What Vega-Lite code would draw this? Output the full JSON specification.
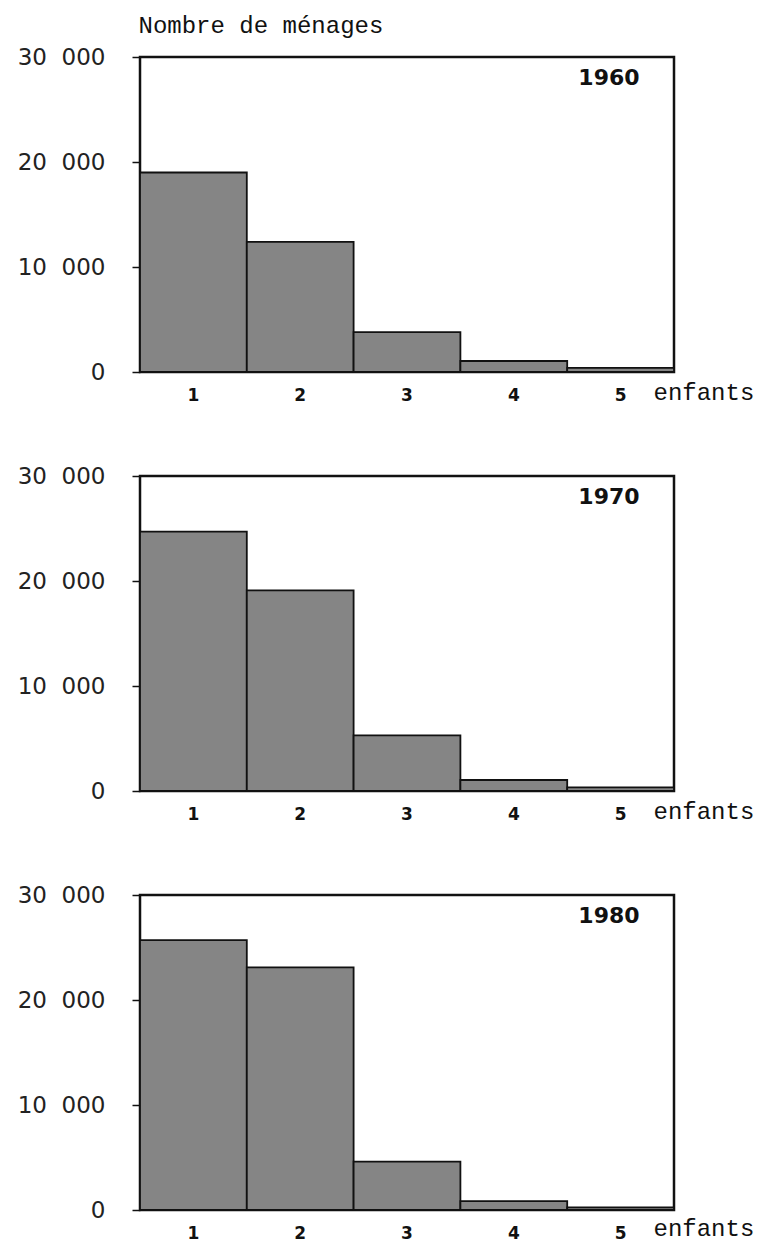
{
  "$schema": "https://vega.github.io/schema/vega-lite/v6.json",
  "background": "white",
  "padding": {"left": 15, "top": 11, "right": 0, "bottom": 0},
  "spacing": 104,
  "bounds": "flush",
  "config": {
    "view": {"stroke": "#111", "strokeWidth": 2.5},
    "axis": {"grid": false}
  },
  "datasets": {
    "menages": [
      {"annee": "1960", "enfants": 1, "menages": 19000},
      {"annee": "1960", "enfants": 2, "menages": 12400},
      {"annee": "1960", "enfants": 3, "menages": 3800},
      {"annee": "1960", "enfants": 4, "menages": 1050},
      {"annee": "1960", "enfants": 5, "menages": 400},
      {"annee": "1970", "enfants": 1, "menages": 24700},
      {"annee": "1970", "enfants": 2, "menages": 19100},
      {"annee": "1970", "enfants": 3, "menages": 5300},
      {"annee": "1970", "enfants": 4, "menages": 1050},
      {"annee": "1970", "enfants": 5, "menages": 350},
      {"annee": "1980", "enfants": 1, "menages": 25700},
      {"annee": "1980", "enfants": 2, "menages": 23100},
      {"annee": "1980", "enfants": 3, "menages": 4600},
      {"annee": "1980", "enfants": 4, "menages": 850},
      {"annee": "1980", "enfants": 5, "menages": 250}
    ],
    "annees": [
      {"annee": "1960"},
      {"annee": "1970"},
      {"annee": "1980"}
    ]
  },
  "vconcat": [
    {
      "width": 534,
      "height": 315,
      "layer": [
        {
          "data": {"name": "menages"},
          "transform": [{"filter": "datum.annee == '1960'"}],
          "mark": {"type": "bar", "fill": "#858585", "stroke": "#111", "strokeWidth": 1.8},
          "encoding": {
            "x": {"field": "enfants", "type": "ordinal", "scale": {"paddingInner": 0, "paddingOuter": 0},
              "axis": {"labelAngle": 0, "ticks": false, "domain": false, "labelPadding": 15, "labelFont": "DejaVu Sans", "labelFontWeight": "bold", "labelFontSize": 17, "labelColor": "#111",
                "title": "enfants", "titleX": 513, "titleY": 20, "titleAlign": "left", "titleBaseline": "middle", "titleFont": "Liberation Mono", "titleFontSize": 24, "titleFontWeight": "normal", "titleColor": "#111"}},
            "y": {"field": "menages", "type": "quantitative", "scale": {"domain": [0, 30000], "nice": false},
              "axis": {"values": [0, 10000, 20000, 30000], "domain": false, "tickSize": 8, "tickColor": "#111", "tickWidth": 1.5, "labelPadding": 27, "labelFont": "DejaVu Sans", "labelFontSize": 23, "labelColor": "#222",
                "labelExpr": "datum.value == 0 ? '0' : replace(format(datum.value, ','), ',', '\u00a0\u00a0')",
                "title": "Nombre de ménages", "titleAngle": 0, "titleX": -2, "titleY": -25, "titleAlign": "left", "titleBaseline": "alphabetic", "titleFont": "Liberation Mono", "titleFontSize": 24, "titleFontWeight": "normal", "titleColor": "#111"}}
          }
        },
        {
          "data": {"name": "annees"},
          "transform": [{"filter": "datum.annee == '1960'"}],
          "mark": {"type": "text", "align": "right", "baseline": "middle", "dx": 19, "font": "DejaVu Sans", "fontWeight": "bold", "fontSize": 22, "color": "#111"},
          "encoding": {
            "x": {"datum": 5, "type": "ordinal"},
            "y": {"datum": 28000, "type": "quantitative"},
            "text": {"field": "annee"}
          }
        }
      ]
    },
    {
      "width": 534,
      "height": 315,
      "layer": [
        {
          "data": {"name": "menages"},
          "transform": [{"filter": "datum.annee == '1970'"}],
          "mark": {"type": "bar", "fill": "#858585", "stroke": "#111", "strokeWidth": 1.8},
          "encoding": {
            "x": {"field": "enfants", "type": "ordinal", "scale": {"paddingInner": 0, "paddingOuter": 0},
              "axis": {"labelAngle": 0, "ticks": false, "domain": false, "labelPadding": 15, "labelFont": "DejaVu Sans", "labelFontWeight": "bold", "labelFontSize": 17, "labelColor": "#111",
                "title": "enfants", "titleX": 513, "titleY": 20, "titleAlign": "left", "titleBaseline": "middle", "titleFont": "Liberation Mono", "titleFontSize": 24, "titleFontWeight": "normal", "titleColor": "#111"}},
            "y": {"field": "menages", "type": "quantitative", "scale": {"domain": [0, 30000], "nice": false},
              "axis": {"values": [0, 10000, 20000, 30000], "domain": false, "tickSize": 8, "tickColor": "#111", "tickWidth": 1.5, "labelPadding": 27, "labelFont": "DejaVu Sans", "labelFontSize": 23, "labelColor": "#222",
                "labelExpr": "datum.value == 0 ? '0' : replace(format(datum.value, ','), ',', '\u00a0\u00a0')",
                "title": null}}
          }
        },
        {
          "data": {"name": "annees"},
          "transform": [{"filter": "datum.annee == '1970'"}],
          "mark": {"type": "text", "align": "right", "baseline": "middle", "dx": 19, "font": "DejaVu Sans", "fontWeight": "bold", "fontSize": 22, "color": "#111"},
          "encoding": {
            "x": {"datum": 5, "type": "ordinal"},
            "y": {"datum": 28000, "type": "quantitative"},
            "text": {"field": "annee"}
          }
        }
      ]
    },
    {
      "width": 534,
      "height": 315,
      "layer": [
        {
          "data": {"name": "menages"},
          "transform": [{"filter": "datum.annee == '1980'"}],
          "mark": {"type": "bar", "fill": "#858585", "stroke": "#111", "strokeWidth": 1.8},
          "encoding": {
            "x": {"field": "enfants", "type": "ordinal", "scale": {"paddingInner": 0, "paddingOuter": 0},
              "axis": {"labelAngle": 0, "ticks": false, "domain": false, "labelPadding": 15, "labelFont": "DejaVu Sans", "labelFontWeight": "bold", "labelFontSize": 17, "labelColor": "#111",
                "title": "enfants", "titleX": 513, "titleY": 18, "titleAlign": "left", "titleBaseline": "middle", "titleFont": "Liberation Mono", "titleFontSize": 24, "titleFontWeight": "normal", "titleColor": "#111"}},
            "y": {"field": "menages", "type": "quantitative", "scale": {"domain": [0, 30000], "nice": false},
              "axis": {"values": [0, 10000, 20000, 30000], "domain": false, "tickSize": 8, "tickColor": "#111", "tickWidth": 1.5, "labelPadding": 27, "labelFont": "DejaVu Sans", "labelFontSize": 23, "labelColor": "#222",
                "labelExpr": "datum.value == 0 ? '0' : replace(format(datum.value, ','), ',', '\u00a0\u00a0')",
                "title": null}}
          }
        },
        {
          "data": {"name": "annees"},
          "transform": [{"filter": "datum.annee == '1980'"}],
          "mark": {"type": "text", "align": "right", "baseline": "middle", "dx": 19, "font": "DejaVu Sans", "fontWeight": "bold", "fontSize": 22, "color": "#111"},
          "encoding": {
            "x": {"datum": 5, "type": "ordinal"},
            "y": {"datum": 28000, "type": "quantitative"},
            "text": {"field": "annee"}
          }
        }
      ]
    }
  ]
}
